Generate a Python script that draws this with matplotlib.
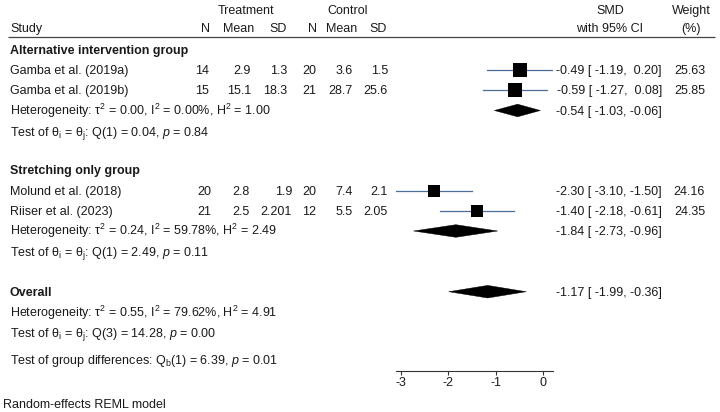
import matplotlib
matplotlib.use('Agg')
import matplotlib.pyplot as plt
from matplotlib.patches import Polygon

plt.rcParams['font.family'] = ['Liberation Sans', 'DejaVu Sans']
plt.rcParams['mathtext.fontset'] = 'custom'
plt.rcParams['mathtext.rm'] = 'Liberation Sans'
plt.rcParams['mathtext.it'] = 'Liberation Sans:italic'
plt.rcParams['mathtext.bf'] = 'Liberation Sans:bold'

# ---------------- data ----------------
groups = ['Alternative intervention group', 'Stretching only group']
studies = ['Gamba et al. (2019a)', 'Gamba et al. (2019b)',
           'Molund et al. (2018)', 'Riiser et al. (2023)']
study_group = [0, 0, 1, 1]
n_t = [14, 15, 20, 21]
mean_t = [2.9, 15.1, 2.8, 2.5]
sd_t = [1.3, 18.3, 1.9, 2.201]
n_c = [20, 21, 20, 12]
mean_c = [3.6, 28.7, 7.4, 5.5]
sd_c = [1.5, 25.6, 2.1, 2.05]
smd = [-0.49, -0.59, -2.30, -1.40]
ci_lo = [-1.19, -1.27, -3.10, -2.18]
ci_hi = [0.20, 0.08, -1.50, -0.61]
weight = [25.63, 25.85, 24.16, 24.35]

grp_est = [-0.54, -1.84]
grp_lo = [-1.03, -2.73]
grp_hi = [-0.06, -0.96]
grp_tau2 = [0.00, 0.24]
grp_i2 = [0.00, 59.78]
grp_h2 = [1.00, 2.49]
grp_q = [0.04, 2.49]
grp_df = [1, 1]
grp_p = [0.84, 0.11]

ov_est, ov_lo, ov_hi = -1.17, -1.99, -0.36
ov_tau2, ov_i2, ov_h2 = 0.55, 79.62, 4.91
ov_q, ov_df, ov_p = 14.28, 3, 0.00
qb, qb_df, qb_p = 6.39, 1, 0.01

xticks = [-3, -2, -1, 0]

# ---------------- layout (pixel rows) ----------------
W, H = 720, 412
grp_title_y = [49.5, 169.5]
study_y = [69.5, 90.0, 190.5, 210.8]
het_y = [110.5, 231.0]
test_y = [131.0, 251.7]
ov_y, ov_het_y, ov_test_y = 291.7, 312.3, 332.7
qb_y, note_y = 360.0, 403.3
axis_y = 370.7

FS = 9
TXT = '#1a1a1a'
CI_COL = '#4a6f98'

fig = plt.figure(figsize=(W / 100, H / 100), dpi=100)
ax = fig.add_axes([0, 0, 1, 1])
ax.set_xlim(0, W)
ax.set_ylim(H, 0)
ax.axis('off')

BASE = 4.4  # baseline offset from visual centre (px)


def txt(x, y, s, ha='left', bold=False, size=FS):
    ax.text(x, y + BASE, s, ha=ha, va='baseline', fontsize=size,
            color=TXT, fontweight='bold' if bold else 'normal')


# headers
txt(246.5, 10, 'Treatment', ha='center')
txt(347.5, 10, 'Control', ha='center')
txt(610, 10, 'SMD', ha='center')
txt(691, 10, 'Weight', ha='center')
txt(10, 27.3, 'Study')
for x, s in [(210, 'N'), (254, 'Mean'), (287, 'SD'),
             (317, 'N'), (357, 'Mean'), (387, 'SD')]:
    txt(x, 27.3, s, ha='right')
txt(610, 27.3, 'with 95% CI', ha='center')
txt(691, 27.3, '(%)', ha='center')
ax.plot([8, 715], [37.3, 37.3], color='#444444', lw=0.9, solid_capstyle='butt')

col_x = {0: (209, 251, 287, 316, 353, 388), 1: (211, 250, 292, 316, 353, 388)}


def ci_str(e, l, h):
    return f'{e:.2f} [{l:6.2f},{h:6.2f}]'


for g, name in enumerate(groups):
    txt(10, grp_title_y[g], name, bold=True)
    het = (f'Heterogeneity: τ$^2$ = {grp_tau2[g]:.2f}, I$^2$ = {grp_i2[g]:.2f}%, '
           f'H$^2$ = {grp_h2[g]:.2f}')
    txt(10, het_y[g], het)
    tst = (f'Test of θ$_\\mathrm{{i}}$ = θ$_\\mathrm{{j}}$: Q({grp_df[g]}) = {grp_q[g]:.2f}, '
           f'$p$ = {grp_p[g]:.2f}')
    txt(10, test_y[g], tst)
    txt(662, het_y[g], ci_str(grp_est[g], grp_lo[g], grp_hi[g]), ha='right')

for i, s in enumerate(studies):
    y = study_y[i]
    cx = col_x[study_group[i]]
    txt(10, y, s)
    vals = [f'{n_t[i]}', f'{mean_t[i]:g}', f'{sd_t[i]:g}',
            f'{n_c[i]}', f'{mean_c[i]:g}', f'{sd_c[i]:g}']
    for x, v in zip(cx, vals):
        txt(x, y, v, ha='right')
    txt(662, y, ci_str(smd[i], ci_lo[i], ci_hi[i]), ha='right')
    txt(705, y, f'{weight[i]:.2f}', ha='right')

txt(10, ov_y, 'Overall', bold=True)
txt(10, ov_het_y, f'Heterogeneity: τ$^2$ = {ov_tau2:.2f}, I$^2$ = {ov_i2:.2f}%, H$^2$ = {ov_h2:.2f}')
txt(10, ov_test_y, f'Test of θ$_\\mathrm{{i}}$ = θ$_\\mathrm{{j}}$: Q({ov_df}) = {ov_q:.2f}, $p$ = {ov_p:.2f}')
txt(662, ov_y, ci_str(ov_est, ov_lo, ov_hi), ha='right')
txt(10, qb_y, f'Test of group differences: Q$_\\mathrm{{b}}$({qb_df}) = {qb:.2f}, $p$ = {qb_p:.2f}')
txt(3, note_y, 'Random-effects REML model')

# ---------------- forest panel ----------------
x_left_px, x_right_px = 396.0, 552.7
fax = fig.add_axes([x_left_px / W, 1 - axis_y / H, (x_right_px - x_left_px) / W, axis_y / H])
fax.set_xlim(-3.099, 0.198)
fax.set_ylim(axis_y, 0)
fax.patch.set_alpha(0)
for sp in ['top', 'right', 'left']:
    fax.spines[sp].set_visible(False)
fax.spines['bottom'].set_color('#333333')
fax.spines['bottom'].set_linewidth(0.8)
fax.set_yticks([])
fax.set_xticks(xticks)
fax.set_xticklabels([f'{t:d}' for t in xticks])
fax.tick_params(axis='x', length=3, width=0.8, color='#333333', pad=1.5,
                labelsize=FS, labelcolor=TXT)

max_w = max(weight)
for i in range(len(studies)):
    y = study_y[i]
    fax.plot([ci_lo[i], ci_hi[i]], [y, y], color=CI_COL, lw=0.9, zorder=2)
    ms = 9.6 * (weight[i] / max_w) ** 0.5
    fax.plot(smd[i], y, marker='s', ms=ms, color='black', mec='black', mew=0, zorder=3)


def diamond(e, l, h, y, hh=6.3):
    fax.add_patch(Polygon([(l, y), (e, y - hh), (h, y), (e, y + hh)],
                          closed=True, facecolor='black', edgecolor='black', lw=0.3))


for g in range(len(groups)):
    diamond(grp_est[g], grp_lo[g], grp_hi[g], het_y[g])
diamond(ov_est, ov_lo, ov_hi, ov_y)

fig.savefig('out.png', dpi=100)
